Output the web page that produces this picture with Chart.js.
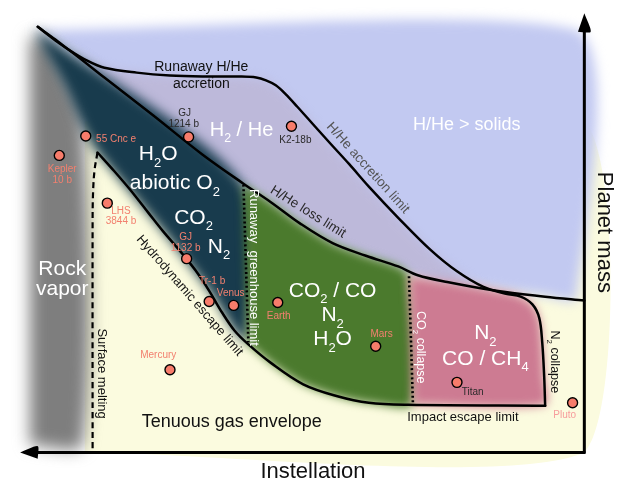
<!DOCTYPE html>
<html><head><meta charset="utf-8">
<script src="https://cdn.jsdelivr.net/npm/chart.js@4"></script>
<style>html,body{margin:0;padding:0;background:#fff;overflow:hidden}canvas{display:block}</style>
</head><body>
<canvas id="c" width="626" height="492"></canvas>
<script>
// Diagram units (schematic): x = position along instellation axis, y = position along planet-mass axis (inverted)
const xRange = [0, 626];
const yRange = [0, 492];

// Boundary curves
const lossLimit = [[32,21],[50,35],[67,47],[100,73],[150,112],[200,152],[242,182],[270,201],[300,223],[333,243],[367,256],[400,267],[420,276],[450,283],[500,292],[550,298],[590,302]];
const accretionLimit = [[32,21],[50,34],[63,44],[83,56],[100,63],[133,68],[167,71],[200,72],[240,72],[255,73],[265,76],[275,81],[285,90],[297,103],[313,121],[330,140],[350,162],[370,185],[400,217],[433,250],[460,272],[487,288],[510,295],[525,298],[537,306],[544,320],[547,345],[549,380],[550,410]];
const hydroEscapeLimit = [[93,150],[110,169],[127,189],[145,212],[160,231],[178,252],[193,271],[207,292],[220,314],[233,333],[247,347],[270,366],[303,388],[337,400],[370,407],[410,409],[550,410]];
const surfaceMelting = [[93,150],[90,168],[88.5,190],[88,220],[88,458]];
const greenhouseLimit = [[242,183],[247,345]];
const co2Collapse = [[411,277],[415,408]];
const massAxis = [[590,459],[590,22]];
const instellationAxis = [[591,458],[30,458]];
const massArrow = [[590,7],[596.5,26],[583.5,26]];
const instellationArrow = [[14,458],[32,451.5],[32,464.5]];

// Regimes (filled areas)
const yellowRegion = [[80,118],[590,118],[590,458],[80,458]];
const grayRegion = [[24,30],[42,38],[78,122],[78,450],[24,450]];
const blueRegion = [[28,24],[582,24],[582,300],[550,297],[500,291],[450,282],[420,275],[400,266],[333,242],[300,222],[242,181],[200,151],[100,72],[32,22]];
const lavenderRegion = [[32,21],[63,44],[100,63],[167,71],[240,72],[265,76],[285,90],[313,121],[350,162],[400,217],[433,250],[460,272],[487,288],[523,297],[500,292],[450,283],[420,276],[400,267],[333,243],[300,223],[242,182],[200,152],[100,73]];
const tealRegion = [[30,23],[242,183],[247,345],[233,333],[207,292],[160,231],[93,150],[80,128],[58,80],[38,44]];
const greenRegion = [[242,183],[270,201],[300,223],[333,243],[367,256],[400,267],[411,277],[415,408],[370,407],[337,400],[303,388],[270,366],[247,347]];
const pinkRegion = [[411,277],[450,283],[500,292],[523,297],[537,306],[544,320],[547,345],[549,380],[550,409],[415,409]];

// Planets
const planetNames = ['55 Cnc e','Kepler 10 b','GJ 1214 b','K2-18b','LHS 3844 b','GJ 1132 b','Tr-1 b','Venus','Earth','Mars','Mercury','Titan','Pluto'];
const planetX = [81,54,186,291,103,184,207,232,277,377,167,460,578];
const planetY = [133,153,134,123,202,259,303,307,304,349,373,386,407];

// Text annotations
const SAL = '#f2806f', WH = '#ffffff', BK = '#111111', DK = '#2a2a2a';
const annotations = [
  {t:'H_2 / He', x:240, y:127, s:20, c:WH},
  {t:'H/He > solids', x:470, y:122, s:18, c:WH},
  {t:'H_2O', x:155, y:152, s:21, c:WH},
  {t:'abiotic O_2', x:172, y:182, s:21, c:WH},
  {t:'CO_2', x:191, y:217, s:21, c:WH},
  {t:'N_2', x:217, y:247, s:21, c:WH},
  {t:'Rock', x:57, y:270, s:21, c:WH},
  {t:'vapor', x:57, y:290, s:21, c:WH},
  {t:'CO_2 / CO', x:333, y:292, s:21, c:WH},
  {t:'N_2', x:333, y:317, s:21, c:WH},
  {t:'H_2O', x:333, y:342, s:21, c:WH},
  {t:'N_2', x:489, y:336, s:21, c:WH},
  {t:'CO / CH_4', x:489, y:362, s:21, c:WH},
  {t:'Runaway H/He', x:199, y:62, s:14, c:BK},
  {t:'accretion', x:199, y:80, s:14, c:BK},
  {t:'Tenuous gas envelope', x:230, y:427, s:18, c:BK},
  {t:'Impact escape limit', x:466, y:422, s:13, c:BK},
  {t:'Instellation', x:313, y:478, s:22, c:BK},
  {t:'Planet mass', x:610, y:232, s:22, c:BK, r:90},
  {t:'Hydrodynamic escape limit', x:187, y:297, s:13, c:BK, r:49},
  {t:'H/He loss limit', x:308, y:211, s:13.5, c:DK, r:32},
  {t:'H/He accretion limit', x:369, y:166, s:13.5, c:'#555555', r:48},
  {t:'Surface melting', x:97, y:377, s:13, c:BK, r:90},
  {t:'N_2 collapse', x:559, y:365, s:12.5, c:BK, r:90},
  {t:'CO_2 collapse', x:423, y:350, s:12.5, c:WH, r:90},
  {t:'Runaway  greenhouse limit', x:252, y:268, s:13, c:WH, r:90},
  {t:'55 Cnc e', x:112, y:136, s:10, c:SAL},
  {t:'Kepler', x:57, y:167, s:10, c:SAL},
  {t:'10 b', x:57, y:178, s:10, c:SAL},
  {t:'GJ', x:182, y:110, s:10, c:DK},
  {t:'1214 b', x:181, y:121, s:10, c:DK},
  {t:'K2-18b', x:295, y:137, s:10, c:DK},
  {t:'LHS', x:117, y:210, s:10, c:SAL},
  {t:'3844 b', x:117, y:221, s:10, c:SAL},
  {t:'GJ', x:183, y:237, s:10, c:SAL},
  {t:'1132 b', x:183, y:248, s:10, c:SAL},
  {t:'Tr-1 b', x:210, y:282, s:10, c:SAL},
  {t:'Venus', x:229, y:294, s:10, c:SAL},
  {t:'Earth', x:278, y:318, s:10, c:SAL},
  {t:'Mars', x:383, y:337, s:10, c:SAL},
  {t:'Mercury', x:155, y:358, s:10, c:SAL},
  {t:'Titan', x:476, y:396, s:10, c:DK},
  {t:'Pluto', x:570, y:420, s:10, c:'#f79c9c'}
];

const FONT = '"Liberation Sans", Arial, Helvetica, sans-serif';
const P = a => a.map(p => ({x:p[0], y:p[1]}));

function lineDS(data, opts) {
  return Object.assign({data:P(data), showLine:true, fill:false, borderColor:'#000', borderWidth:2.5,
    pointRadius:0, tension:0.35, borderCapStyle:'round', borderJoinStyle:'round'}, opts||{});
}
function regionDS(data, color, blur) {
  return {data:P(data), showLine:true, fill:'shape', backgroundColor:color, borderWidth:0,
    borderColor:'rgba(0,0,0,0)', pointRadius:0, tension:0.25, blur:blur};
}

const datasets = [
  {data: planetX.map((x,i)=>({x, y:planetY[i]})), showLine:false, pointRadius:5, pointHoverRadius:5,
   pointBackgroundColor:'#f77c6b', pointBorderColor:'#000', pointBorderWidth:1.4},
  regionDS(massArrow, '#000', 0),
  regionDS(instellationArrow, '#000', 0),
  lineDS(massAxis, {borderWidth:3, tension:0, borderCapStyle:'butt'}),
  lineDS(instellationAxis, {borderWidth:3, tension:0, borderCapStyle:'butt'}),
  lineDS(lossLimit),
  lineDS(accretionLimit),
  lineDS(hydroEscapeLimit),
  lineDS(surfaceMelting, {borderDash:[6,4], borderCapStyle:'butt', borderWidth:2.2}),
  lineDS(greenhouseLimit, {borderDash:[2,2.6], borderCapStyle:'butt', borderWidth:2.6, tension:0}),
  lineDS(co2Collapse, {borderDash:[2,2.6], borderCapStyle:'butt', borderWidth:2.6, tension:0}),
  regionDS(pinkRegion, '#cd7b92', 5),
  regionDS(greenRegion, '#4b7a2d', 5),
  regionDS(tealRegion, '#183b4d', 6),
  regionDS(lavenderRegion, '#bdb9da', 5),
  regionDS(blueRegion, '#c2c9f1', 6),
  regionDS(grayRegion, '#7e7e7e', 8),
  regionDS(yellowRegion, '#fbfbdf', 0)
];

function setFilter(chart, meta) {
  const b = meta ? chart.data.datasets[meta.index].blur : 0;
  chart.ctx.filter = b ? 'blur(' + b + 'px)' : 'none';
}
const blurPlugin = {
  id: 'blurFills',
  beforeDatasetsDraw(chart) {
    const list = chart.getSortedVisibleDatasetMetas();
    setFilter(chart, list[list.length - 1]);
  },
  afterDatasetDraw(chart, args) {
    const list = chart.getSortedVisibleDatasetMetas();
    const i = list.indexOf(args.meta);
    setFilter(chart, list[i - 1]);
  },
  afterDatasetsDraw(chart) { chart.ctx.filter = 'none'; }
};

function parseRich(t) {
  const segs = [];
  for (let i = 0; i < t.length; i++) {
    if (t[i] === '_' && i + 1 < t.length) { segs.push({s:t[i+1], sub:true}); i++; }
    else {
      if (segs.length && !segs[segs.length-1].sub) segs[segs.length-1].s += t[i];
      else segs.push({s:t[i], sub:false});
    }
  }
  return segs;
}
const textPlugin = {
  id: 'annotations',
  afterDatasetsDraw(chart) {
    const ctx = chart.ctx, xs = chart.scales.x, ys = chart.scales.y;
    annotations.forEach(a => {
      const px = xs.getPixelForValue(a.x), py = ys.getPixelForValue(a.y);
      const segs = parseRich(a.t);
      const big = a.s + 'px ' + FONT, small = (a.s * 0.62).toFixed(1) + 'px ' + FONT;
      let w = 0;
      segs.forEach(sg => { ctx.font = sg.sub ? small : big; sg.w = ctx.measureText(sg.s).width; w += sg.w; });
      ctx.save();
      ctx.translate(px, py);
      if (a.r) ctx.rotate(a.r * Math.PI / 180);
      ctx.fillStyle = a.c;
      ctx.textBaseline = 'middle';
      ctx.textAlign = 'left';
      let cx = -w / 2;
      segs.forEach(sg => {
        ctx.font = sg.sub ? small : big;
        ctx.fillText(sg.s, cx, sg.sub ? a.s * 0.42 : 0);
        cx += sg.w;
      });
      ctx.restore();
    });
  }
};

new Chart(document.getElementById('c'), {
  type: 'scatter',
  data: {datasets},
  options: {
    responsive: false,
    animation: false,
    events: [],
    layout: {padding: 0},
    plugins: {legend:{display:false}, tooltip:{enabled:false}, title:{display:false}},
    scales: {
      x: {type:'linear', min:xRange[0], max:xRange[1], display:false},
      y: {type:'linear', min:yRange[0], max:yRange[1], reverse:true, display:false}
    }
  },
  plugins: [blurPlugin, textPlugin]
});
</script>
</body></html>
